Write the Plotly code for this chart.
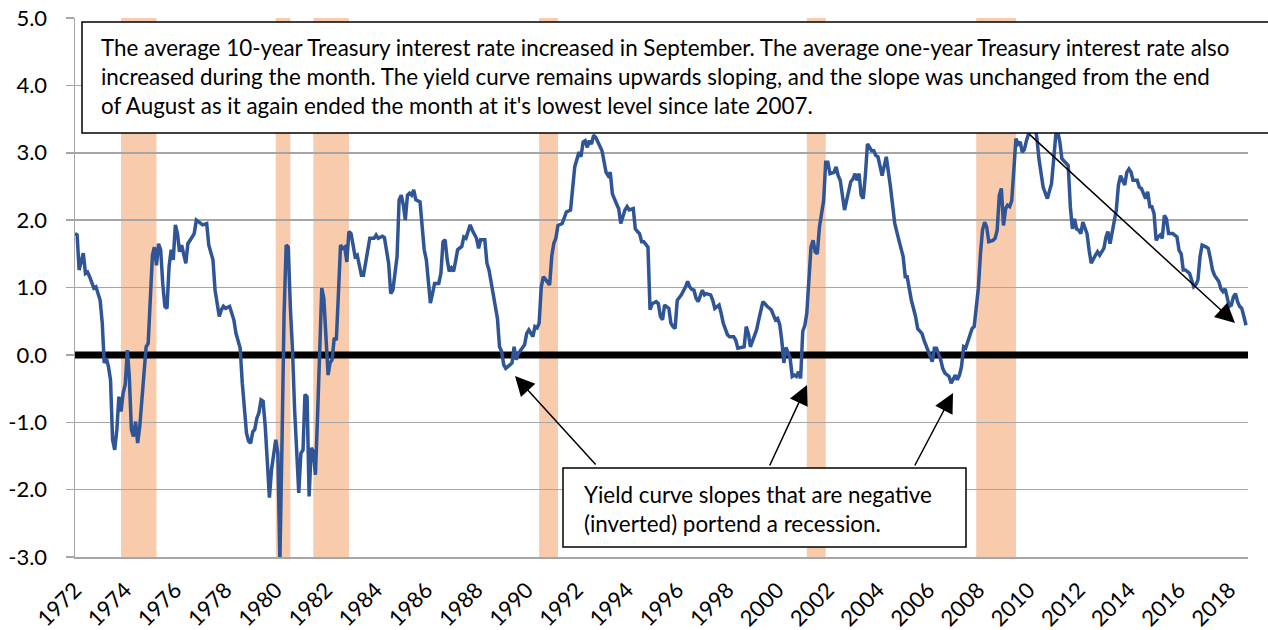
import pandas as pd
import plotly.graph_objects as go

# ---- data ----
dates = [
    "1972-01", "1972-02", "1972-03", "1972-05", "1972-06", "1972-07", "1972-08", "1972-10", "1972-11",
    "1973-01", "1973-02", "1973-03", "1973-04", "1973-05", "1973-06", "1973-07", "1973-08", "1973-09",
    "1973-10", "1973-11", "1973-12", "1974-01", "1974-02", "1974-03", "1974-04", "1974-05", "1974-06",
    "1974-07", "1974-08", "1974-10", "1974-11", "1974-12", "1975-02", "1975-03", "1975-04", "1975-05",
    "1975-06", "1975-07", "1975-08", "1975-09", "1975-10", "1975-11", "1975-12", "1976-01", "1976-02",
    "1976-03", "1976-04", "1976-06", "1976-07", "1976-09", "1976-10", "1976-11", "1977-01", "1977-02",
    "1977-04", "1977-05", "1977-07", "1977-08", "1977-10", "1977-11", "1977-12", "1978-01", "1978-03",
    "1978-05", "1978-06", "1978-08", "1978-09", "1978-11", "1978-12", "1979-01", "1979-02", "1979-03",
    "1979-04", "1979-05", "1979-06", "1979-07", "1979-08", "1979-09", "1979-10", "1979-11", "1979-12",
    "1980-01", "1980-02", "1980-03", "1980-04", "1980-05", "1980-06", "1980-07", "1980-08", "1980-09",
    "1980-10", "1980-11", "1980-12", "1981-01", "1981-02", "1981-03", "1981-04", "1981-05", "1981-06",
    "1981-07", "1981-08", "1981-09", "1981-10", "1981-11", "1981-12", "1982-01", "1982-02", "1982-03",
    "1982-04", "1982-05", "1982-06", "1982-07", "1982-08", "1982-09", "1982-10", "1982-11", "1982-12",
    "1983-01", "1983-03", "1983-04", "1983-06", "1983-07", "1983-10", "1983-12", "1984-01", "1984-02",
    "1984-04", "1984-05", "1984-07", "1984-08", "1984-09", "1984-11", "1984-12", "1985-01", "1985-02",
    "1985-03", "1985-04", "1985-05", "1985-06", "1985-07", "1985-08", "1985-10", "1985-11", "1985-12",
    "1986-01", "1986-03", "1986-04", "1986-05", "1986-07", "1986-08", "1986-09", "1986-10", "1986-11",
    "1986-12", "1987-01", "1987-02", "1987-03", "1987-04", "1987-06", "1987-07", "1987-08", "1987-09",
    "1987-10", "1987-11", "1988-01", "1988-02", "1988-03", "1988-05", "1988-06", "1988-07", "1988-09",
    "1988-11", "1988-12", "1989-01", "1989-02", "1989-03", "1989-05", "1989-06", "1989-07", "1989-08",
    "1989-09", "1989-11", "1989-12", "1990-01", "1990-02", "1990-04", "1990-05", "1990-06", "1990-07",
    "1990-08", "1990-09", "1990-10", "1990-12", "1991-01", "1991-02", "1991-03", "1991-04", "1991-06",
    "1991-07", "1991-08", "1991-10", "1991-11", "1991-12", "1992-02", "1992-03", "1992-04", "1992-05",
    "1992-06", "1992-07", "1992-08", "1992-09", "1992-10", "1992-12", "1993-01", "1993-03", "1993-04",
    "1993-05", "1993-06", "1993-08", "1993-09", "1993-10", "1993-12", "1994-01", "1994-02", "1994-04",
    "1994-05", "1994-06", "1994-07", "1994-08", "1994-09", "1994-11", "1994-12", "1995-01", "1995-03",
    "1995-04", "1995-05", "1995-06", "1995-07", "1995-09", "1995-10", "1995-11", "1995-12", "1996-01",
    "1996-03", "1996-05", "1996-06", "1996-07", "1996-08", "1996-09", "1996-10", "1996-11", "1997-01",
    "1997-02", "1997-03", "1997-05", "1997-06", "1997-07", "1997-09", "1997-10", "1997-11", "1998-01",
    "1998-02", "1998-04", "1998-05", "1998-06", "1998-08", "1998-09", "1998-10", "1998-11", "1998-12",
    "1999-01", "1999-03", "1999-04", "1999-06", "1999-07", "1999-08", "1999-10", "1999-12", "2000-01",
    "2000-02", "2000-03", "2000-04", "2000-05", "2000-07", "2000-08", "2000-09", "2000-10", "2000-11",
    "2000-12", "2001-01", "2001-02", "2001-03", "2001-05", "2001-06", "2001-07", "2001-08", "2001-09",
    "2001-11", "2001-12", "2002-01", "2002-02", "2002-04", "2002-05", "2002-06", "2002-07", "2002-08",
    "2002-09", "2002-10", "2002-12", "2003-01", "2003-02", "2003-03", "2003-04", "2003-05", "2003-06",
    "2003-07", "2003-08", "2003-10", "2003-11", "2003-12", "2004-01", "2004-03", "2004-04", "2004-05",
    "2004-07", "2004-08", "2004-09", "2004-11", "2005-01", "2005-02", "2005-03", "2005-05", "2005-07",
    "2005-08", "2005-10", "2005-11", "2006-01", "2006-03", "2006-04", "2006-05", "2006-07", "2006-08",
    "2006-09", "2006-11", "2006-12", "2007-01", "2007-02", "2007-03", "2007-04", "2007-05", "2007-06",
    "2007-07", "2007-09", "2007-10", "2007-11", "2007-12", "2008-01", "2008-02", "2008-03", "2008-04",
    "2008-05", "2008-06", "2008-08", "2008-09", "2008-10", "2008-11", "2008-12", "2009-01", "2009-02",
    "2009-03", "2009-04", "2009-05", "2009-06", "2009-07", "2009-08", "2009-09", "2009-10", "2009-11",
    "2009-12", "2010-01", "2010-02", "2010-03", "2010-04", "2010-05", "2010-06", "2010-08", "2010-09",
    "2010-10", "2010-12", "2011-01", "2011-02", "2011-03", "2011-04", "2011-05", "2011-07", "2011-08",
    "2011-09", "2011-10", "2011-11", "2011-12", "2012-01", "2012-02", "2012-03", "2012-05", "2012-06",
    "2012-07", "2012-09", "2012-10", "2012-11", "2013-01", "2013-02", "2013-03", "2013-04", "2013-05",
    "2013-07", "2013-08", "2013-09", "2013-11", "2013-12", "2014-01", "2014-02", "2014-03", "2014-04",
    "2014-05", "2014-06", "2014-07", "2014-09", "2014-10", "2014-11", "2014-12", "2015-01", "2015-02",
    "2015-03", "2015-04", "2015-05", "2015-06", "2015-07", "2015-08", "2015-10", "2015-11", "2015-12",
    "2016-01", "2016-02", "2016-03", "2016-04", "2016-06", "2016-07", "2016-08", "2016-09", "2016-10",
    "2016-11", "2016-12", "2017-02", "2017-03", "2017-04", "2017-05", "2017-06", "2017-07", "2017-08",
    "2017-09", "2017-10", "2017-11", "2017-12", "2018-01", "2018-02", "2018-03", "2018-04", "2018-05",
    "2018-06", "2018-07", "2018-08", "2018-09",
]

slope = [
    1.80, 1.78, 1.26, 1.51, 1.21, 1.23, 1.16, 0.99, 1.01,
    0.81, 0.47, -0.12, -0.05, -0.17, -0.37, -1.26, -1.41, -1.11,
    -0.62, -0.84, -0.57, -0.44, 0.07, -0.32, -1.11, -1.21, -0.99,
    -1.31, -1.06, -0.17, 0.12, 0.17, 1.48, 1.60, 1.33, 1.65,
    1.56, 1.06, 0.72, 0.69, 1.31, 1.56, 1.41, 1.93, 1.80,
    1.53, 1.63, 1.36, 1.65, 1.75, 1.80, 2.00, 1.95, 1.93,
    1.95, 1.63, 1.41, 0.96, 0.57, 0.67, 0.72, 0.69, 0.72,
    0.52, 0.32, 0.10, -0.42, -1.16, -1.28, -1.31, -1.14, -1.11,
    -0.94, -0.86, -0.67, -0.69, -1.06, -1.60, -2.12, -1.70, -1.46,
    -1.26, -1.46, -3.07, -1.30, 0.60, 1.63, 1.60, 0.70, 0.07,
    -0.80, -1.60, -2.05, -1.46, -1.41, -0.59, -0.62, -2.10, -1.38,
    -1.43, -1.78, -0.90, -0.10, 0.99, 0.84, 0.17, -0.30, -0.12,
    -0.07, 0.25, 0.22, 0.90, 1.63, 1.58, 1.60, 1.38, 1.83,
    1.80, 1.46, 1.48, 1.18, 1.18, 1.73, 1.73, 1.78, 1.73,
    1.76, 1.74, 1.36, 0.91, 0.96, 1.46, 2.30, 2.37, 2.22,
    2.00, 2.37, 2.40, 2.37, 2.45, 2.30, 2.27, 1.90, 1.56,
    1.41, 0.77, 0.91, 1.06, 1.06, 1.21, 1.68, 1.71, 1.41,
    1.24, 1.29, 1.24, 1.38, 1.56, 1.61, 1.75, 1.73, 1.85,
    1.93, 1.85, 1.73, 1.58, 1.71, 1.71, 1.36, 1.26, 0.87,
    0.54, 0.12, 0.05, -0.15, -0.20, -0.15, -0.12, 0.12, -0.07,
    0.02, 0.10, 0.15, 0.32, 0.37, 0.27, 0.42, 0.40, 0.47,
    1.01, 1.16, 1.12, 1.04, 1.47, 1.66, 1.73, 1.92, 1.95,
    2.05, 2.12, 2.15, 2.49, 2.79, 3.01, 2.94, 3.16, 3.18,
    3.08, 3.18, 3.13, 3.26, 3.23, 3.08, 3.03, 2.71, 2.66,
    2.71, 2.39, 2.24, 2.17, 1.95, 2.15, 2.20, 2.15, 2.17,
    1.87, 1.83, 1.80, 1.68, 1.68, 1.60, 0.67, 0.76, 0.79,
    0.76, 0.57, 0.52, 0.74, 0.69, 0.47, 0.42, 0.39, 0.81,
    0.89, 1.01, 1.09, 1.01, 0.97, 0.96, 0.84, 0.79, 0.96,
    0.89, 0.91, 0.89, 0.81, 0.69, 0.74, 0.62, 0.47, 0.30,
    0.27, 0.27, 0.22, 0.10, 0.12, 0.12, 0.42, 0.32, 0.12,
    0.22, 0.37, 0.52, 0.79, 0.76, 0.72, 0.67, 0.52, 0.54,
    0.45, 0.22, -0.12, 0.11, -0.05, -0.32, -0.30, -0.32, -0.25,
    -0.35, 0.35, 0.44, 0.62, 1.60, 1.70, 1.53, 1.50, 1.90,
    2.29, 2.86, 2.86, 2.69, 2.71, 2.79, 2.66, 2.59, 2.39,
    2.15, 2.29, 2.57, 2.61, 2.69, 2.59, 2.69, 2.37, 2.32,
    2.66, 3.13, 3.03, 3.03, 2.96, 2.94, 2.66, 2.84, 2.94,
    2.49, 2.24, 1.95, 1.70, 1.46, 1.16, 1.16, 0.81, 0.57,
    0.39, 0.32, 0.22, 0.07, -0.10, 0.10, 0.10, -0.07, -0.20,
    -0.27, -0.32, -0.42, -0.35, -0.30, -0.37, -0.30, -0.17, 0.12,
    0.10, 0.32, 0.39, 0.42, 0.72, 0.99, 1.50, 1.85, 1.97,
    1.90, 1.68, 1.70, 1.73, 1.85, 2.37, 2.47, 1.92, 2.17,
    2.22, 2.20, 2.29, 2.81, 3.21, 3.13, 3.16, 3.01, 3.05,
    3.18, 3.30, 3.38, 3.36, 3.40, 3.23, 2.91, 2.49, 2.39,
    2.32, 2.54, 2.94, 3.26, 3.32, 3.16, 2.91, 2.84, 2.81,
    2.20, 1.87, 2.02, 1.87, 1.85, 1.80, 1.97, 1.80, 1.55,
    1.36, 1.48, 1.53, 1.48, 1.58, 1.75, 1.83, 1.65, 1.80,
    2.15, 2.52, 2.66, 2.52, 2.71, 2.76, 2.71, 2.59, 2.59,
    2.59, 2.49, 2.47, 2.32, 2.42, 2.20, 2.20, 2.10, 1.70,
    1.75, 1.78, 1.73, 2.07, 2.02, 1.80, 1.80, 1.78, 1.75,
    1.55, 1.50, 1.26, 1.26, 1.21, 1.11, 1.01, 1.04, 1.11,
    1.46, 1.63, 1.60, 1.58, 1.43, 1.26, 1.18, 1.13, 1.09,
    0.98, 0.94, 0.98, 0.86, 0.72, 0.74, 0.86, 0.91, 0.79,
    0.72, 0.69, 0.57, 0.44,
]

# NBER recessions (first and last month)
recession_start = ["1973-11", "1980-01", "1981-07", "1990-07", "2001-03", "2007-12"]
recession_end = ["1975-03", "1980-07", "1982-11", "1991-03", "2001-11", "2009-06"]

tick_years = list(range(1972, 2019, 2))
y_ticks = [-3, -2, -1, 0, 1, 2, 3, 4, 5]

top_note = [
    "The average 10-year Treasury interest rate increased in September. The average one-year Treasury interest rate also",
    "increased during the month. The yield curve remains upwards sloping, and the slope was unchanged from the end",
    "of August as it again ended the month at it's lowest level since late 2007.",
]
bottom_note = [
    "Yield curve slopes that are negative",
    "(inverted) portend a recession.",
]

# ---- layout geometry (page pixels) ----
W, H = 1268, 630
L, R, T, B = 75, 20, 18, 73
PW, PH = W - L - R, H - T - B


def px_x(x):
    return (x - L) / PW


def px_y(y):
    return (H - B - y) / PH


FONT = "Lato, 'Open Sans', sans-serif"
GRID = "#A6A6A6"
BLUE = "#2F5597"
PEACH = "#F8CBAD"
X_START = pd.Timestamp("1972-01-01")
X_END = pd.Timestamp("2018-09-30")

fig = go.Figure()
# thick zero reference line (drawn under the series)
fig.add_trace(go.Scatter(
    x=[X_START, X_END], y=[0, 0], mode="lines",
    line=dict(color="black", width=7), hoverinfo="skip", showlegend=False,
))
fig.add_trace(go.Scatter(
    x=pd.to_datetime(dates), y=slope, mode="lines",
    line=dict(color=BLUE, width=3.5), hoverinfo="skip", showlegend=False,
))

shapes = []
for s, e in zip(recession_start, recession_end):
    shapes.append(dict(
        type="rect", xref="x", yref="paper",
        x0=pd.Timestamp(s), x1=pd.Timestamp(e) + pd.DateOffset(months=1),
        y0=0, y1=1, fillcolor=PEACH, line=dict(width=0), layer="between",
    ))
# text boxes
shapes.append(dict(type="rect", xref="paper", yref="paper",
                   x0=px_x(82), x1=px_x(1285), y0=px_y(133), y1=px_y(22),
                   fillcolor="white", line=dict(color="black", width=1.5), layer="above"))
shapes.append(dict(type="rect", xref="paper", yref="paper",
                   x0=px_x(563), x1=px_x(966), y0=px_y(547), y1=px_y(468),
                   fillcolor="white", line=dict(color="black", width=1.5), layer="above"))

annotations = []
for i, line in enumerate(top_note):
    annotations.append(dict(
        xref="paper", yref="paper", x=px_x(99), y=px_y(47 + 29.5 * i),
        xanchor="left", yanchor="middle", text=line, showarrow=False,
        font=dict(family=FONT, size=22.4, color="black"),
    ))
for i, line in enumerate(bottom_note):
    annotations.append(dict(
        xref="paper", yref="paper", x=px_x(582), y=px_y(494 + 29.5 * i),
        xanchor="left", yanchor="middle", text=line, showarrow=False,
        font=dict(family=FONT, size=22.4, color="black"),
    ))
# arrows: (head x, head y, tail dx, tail dy) in pixels
arrows = [(515, 376, 82, 90), (807, 385, -38, 82), (953, 393, -39, 74), (1235, 323, -207, -190)]
for hx, hy, dx, dy in arrows:
    annotations.append(dict(
        xref="paper", yref="paper", x=px_x(hx), y=px_y(hy), ax=dx, ay=dy,
        axref="pixel", ayref="pixel", text="", showarrow=True,
        arrowhead=2, arrowsize=2.6, arrowwidth=1.5, arrowcolor="black", standoff=0,
    ))

fig.update_layout(
    template="none",
    width=W, height=H, autosize=False,
    margin=dict(l=L, r=R, t=T, b=B, pad=0, autoexpand=False),
    paper_bgcolor="white", plot_bgcolor="white",
    showlegend=False, hovermode=False,
    shapes=shapes, annotations=annotations,
    font=dict(family=FONT, color="black"),
)
fig.update_xaxes(
    type="date", range=[X_START, X_END], automargin=False,
    tickmode="array", tickvals=[pd.Timestamp(f"{y}-01-01") for y in tick_years],
    ticktext=[str(y) for y in tick_years], tickangle=-45,
    tickfont=dict(family=FONT, size=22, color="black"),
    showgrid=False, zeroline=False, showline=True, linecolor=GRID, linewidth=1.5,
    ticks="", fixedrange=True, ticklabeloverflow="allow", ticklabelstandoff=10,
)
fig.update_yaxes(
    range=[-3, 5], automargin=False, tickmode="array", tickvals=y_ticks,
    ticktext=[f"{v:.1f}" for v in y_ticks],
    tickfont=dict(family=FONT, size=22, color="black"),
    showgrid=True, gridcolor=GRID, gridwidth=1.5, zeroline=False,
    showline=True, linecolor=GRID, linewidth=1.5,
    ticks="outside", ticklen=8, tickcolor=GRID, tickwidth=1.5,
    ticklabelstandoff=14, fixedrange=True, ticklabeloverflow="allow",
)

fig.write_html(
    "out.html",
    config={"displayModeBar": False, "staticPlot": True},
    post_script="document.body.style.margin='0';document.body.style.overflow='hidden';",
)
